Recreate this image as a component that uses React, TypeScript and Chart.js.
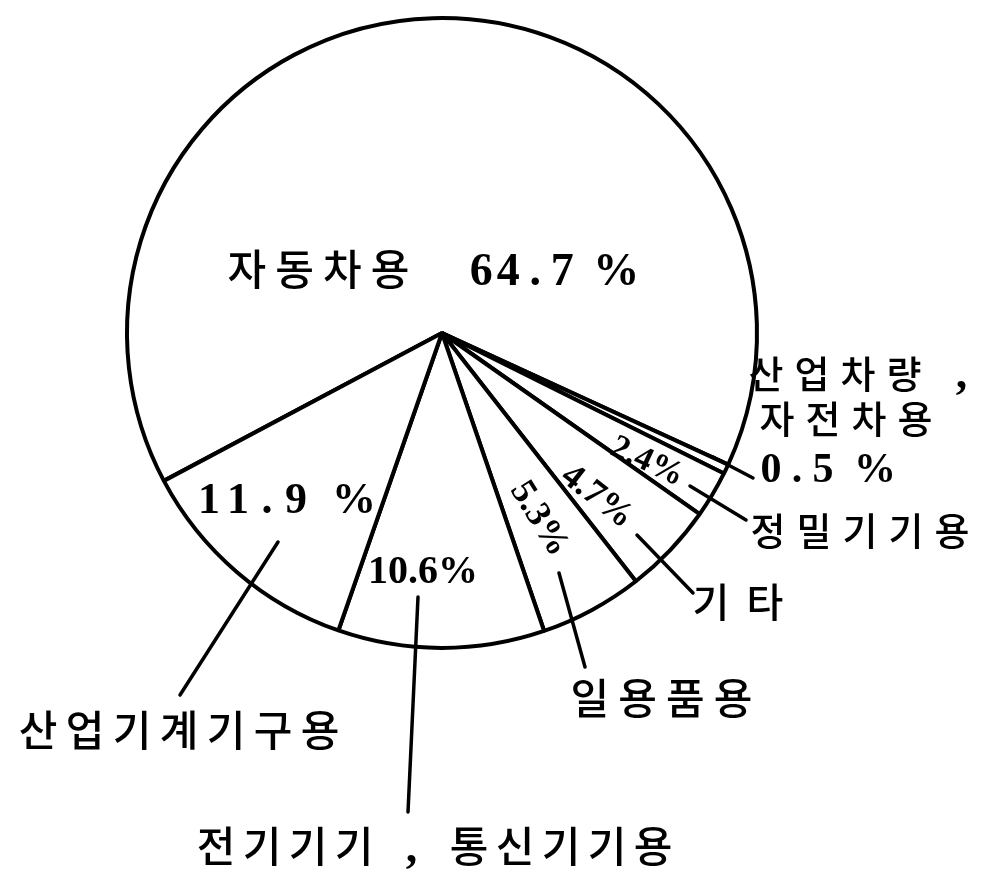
import React, { useEffect, useRef } from "react";
import { Chart, registerables } from "chart.js";

Chart.register(...registerables);

// 용도별 수요 구성비 (%), 시계 방향 순서
const categories = [
  "자동차용",
  "산업차량, 자전차용",
  "정밀기기용",
  "기타",
  "일용품용",
  "전기기기, 통신기기용",
  "산업기계기구용",
];
const shares = [64.7, 0.5, 2.4, 4.7, 5.3, 10.6, 11.9];

// 이름 표기 (줄 단위)
const nameLines = [
  ["자동차용"],
  ["산업차량 ,", "자전차용"],
  ["정밀기기용"],
  ["기타"],
  ["일용품용"],
  ["전기기기 , 통신기기용"],
  ["산업기계기구용"],
];
// 값과 % 사이 띄어쓰기 여부
const percentGap = [true, true, false, false, false, false, true];

const W = 993;
const H = 878;
const R0 = 315; // design radius that the offsets below refer to

const hangul = (s: number) => `500 ${s}px "Noto Sans CJK KR", sans-serif`;
const latin = (s: number) => `bold ${s}px "Liberation Serif", "DejaVu Serif", serif`;

type Spot = {
  // value label
  value:
    | { mode: "inline" }
    | { mode: "type"; dx: number; dy: number; pitch: number; size: number }
    | { mode: "plain"; dx: number; dy: number; size: number }
    | { mode: "rot"; dx: number; dy: number; deg: number; size: number };
  // name lines: left edge / baseline offsets from the pie centre
  names: { dx: number; dy: number; wide: number; narrow: number; size: number }[];
  leader?: [number, number, number, number];
};

const spots: Spot[] = [
  {
    value: { mode: "inline" },
    names: [{ dx: -219, dy: -48, wide: 47.7, narrow: 27, size: 42 }],
  },
  {
    value: { mode: "type", dx: 316, dy: 149, pitch: 26, size: 42 },
    names: [
      { dx: 301, dy: 55, wide: 46, narrow: 23, size: 38 },
      { dx: 312, dy: 100, wide: 46, narrow: 23, size: 38 },
    ],
    leader: [271, 124, 311, 145],
  },
  {
    value: { mode: "rot", dx: 205, dy: 129, deg: 25, size: 34 },
    names: [{ dx: 303, dy: 212, wide: 46, narrow: 23, size: 38 }],
    leader: [248, 153, 304, 187],
  },
  {
    value: { mode: "rot", dx: 155, dy: 164, deg: 38, size: 36 },
    names: [{ dx: 242, dy: 284, wide: 54, narrow: 23, size: 40 }],
    leader: [195, 202, 251, 260],
  },
  {
    value: { mode: "rot", dx: 97, dy: 186, deg: 58, size: 36 },
    names: [{ dx: 124, dy: 381, wide: 47.7, narrow: 23, size: 42 }],
    leader: [117, 240, 143, 334],
  },
  {
    value: { mode: "plain", dx: -74, dy: 250, size: 40 },
    names: [{ dx: -249, dy: 529, wide: 46, narrow: 23, size: 42 }],
    leader: [-24, 264, -34, 479],
  },
  {
    value: { mode: "type", dx: -247.5, dy: 180, pitch: 29, size: 44 },
    names: [{ dx: -427.5, dy: 413, wide: 47, narrow: 23, size: 42 }],
    leader: [-164, 209, -262, 362],
  },
];

const valueText = (i: number) =>
  shares[i].toFixed(1) + (percentGap[i] ? " %" : "%");

// typewriter-style text: every glyph sits in a fixed-width cell
function typeLine(
  ctx: CanvasRenderingContext2D,
  text: string,
  left: number,
  base: number,
  wide: number,
  narrow: number,
  hSize: number,
  lSize: number
) {
  let x = left;
  ctx.textAlign = "center";
  ctx.textBaseline = "alphabetic";
  for (const ch of text) {
    const isWide = ch.charCodeAt(0) >= 0x1100;
    const w = isWide ? wide : narrow;
    if (ch !== " ") {
      ctx.font = isWide ? hangul(hSize) : latin(lSize);
      ctx.fillText(ch, x + w / 2, base);
    }
    x += w;
  }
}

const labelPlugin = {
  id: "pieLabels",
  afterDatasetsDraw(chart: Chart) {
    const ctx = chart.ctx;
    const meta = chart.getDatasetMeta(0);
    const arc: any = meta.data[0];
    if (!arc) return;
    const cx = arc.x;
    const cy = arc.y;
    const k = arc.outerRadius / R0;
    const px = (dx: number) => cx + dx * k;
    const py = (dy: number) => cy + dy * k;

    ctx.save();
    ctx.fillStyle = "#000";
    ctx.strokeStyle = "#000";
    ctx.lineWidth = 3.5;
    ctx.lineCap = "round";

    spots.forEach((s, i) => {
      if (s.leader) {
        const [x1, y1, x2, y2] = s.leader;
        ctx.beginPath();
        ctx.moveTo(px(x1), py(y1));
        ctx.lineTo(px(x2), py(y2));
        ctx.stroke();
      }
      const lines = nameLines[i];
      s.names.forEach((n, j) => {
        let text = lines[j];
        if (s.value.mode === "inline") text += "  " + valueText(i);
        typeLine(ctx, text, px(n.dx), py(n.dy), n.wide, n.narrow, n.size, 46);
      });
      const v = s.value;
      if (v.mode === "type") {
        typeLine(ctx, valueText(i), px(v.dx), py(v.dy), v.pitch, v.pitch, v.size, v.size);
      } else if (v.mode === "plain") {
        ctx.font = latin(v.size);
        ctx.textAlign = "left";
        ctx.textBaseline = "alphabetic";
        ctx.fillText(valueText(i), px(v.dx), py(v.dy));
      } else if (v.mode === "rot") {
        ctx.save();
        ctx.translate(px(v.dx), py(v.dy));
        ctx.rotate((v.deg * Math.PI) / 180);
        ctx.font = latin(v.size);
        ctx.textAlign = "center";
        ctx.textBaseline = "middle";
        ctx.fillText(valueText(i), 0, 0);
        ctx.restore();
      }
    });
    ctx.restore();
  },
};

export default function App() {
  const ref = useRef<HTMLCanvasElement | null>(null);

  useEffect(() => {
    const canvas = ref.current;
    if (!canvas) return;
    const chart = new Chart(canvas, {
      type: "pie",
      data: {
        labels: categories,
        datasets: [
          {
            data: shares,
            backgroundColor: "#ffffff",
            borderColor: "#000000",
            borderWidth: 4,
          },
        ],
      },
      options: {
        responsive: false,
        animation: false,
        devicePixelRatio: 1,
        rotation: 242,
        events: [],
        layout: { padding: { left: 125, right: 234, top: 16, bottom: 228 } },
        plugins: {
          legend: { display: false },
          tooltip: { enabled: false },
        },
      },
      plugins: [labelPlugin],
    });
    return () => chart.destroy();
  }, []);

  return (
    <div style={{ position: "absolute", left: 0, top: 0, width: W, height: H, background: "#fff" }}>
      <canvas ref={ref} width={W} height={H} style={{ display: "block" }} />
    </div>
  );
}
